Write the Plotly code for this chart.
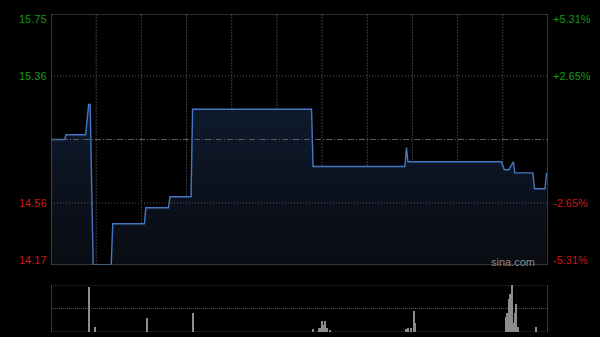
import plotly.graph_objects as go

# ---- data ----
price_minutes = [0, 9, 10, 23, 25, 26, 28, 40, 41, 62, 63, 78, 79, 93, 94, 173, 174, 235, 236, 237,
                 299, 301, 304, 307, 308, 320, 321, 328, 329]
price_values = [14.96, 14.96, 14.99, 14.99, 15.18, 15.18, 14.17, 14.17, 14.43, 14.43, 14.53, 14.53,
                14.60, 14.60, 15.15, 15.15, 14.79, 14.79, 14.91, 14.82,
                14.82, 14.77, 14.77, 14.82, 14.75, 14.75, 14.65, 14.65, 14.75]

vol_minutes = [25, 29, 64, 94, 174, 178, 179, 180, 181, 182, 183, 185,
               236, 237, 239, 241, 242, 302, 303, 304, 305, 306, 307, 308, 309, 310, 322]
vol_values = [95, 10, 29, 41, 6, 8, 8, 23, 14, 23, 9, 5,
              7, 8, 8, 45, 19, 32, 41, 70, 81, 100, 19, 41, 59, 11, 11]

pre_close = 14.96
left_ticks = [15.75, 15.36, 14.56, 14.17]
left_labels = ["15.75", "15.36", "14.56", "14.17"]
right_labels = ["+5.31%", "+2.65%", "-2.65%", "-5.31%"]
tick_colors = ["#169a16", "#169a16", "#d01414", "#d01414"]

# ---- figure ----
fig = go.Figure()

fig.add_trace(go.Scatter(
    x=price_minutes, y=price_values, mode="lines",
    line=dict(color="#4677c4", width=1.4),
    fill="tozeroy",
    fillgradient=dict(type="vertical", start=14.17, stop=15.2,
                      colorscale=[[0, "#090c12"], [1, "#0e1a2d"]]),
    xaxis="x", yaxis="y", hoverinfo="skip", showlegend=False))

fig.add_trace(go.Bar(
    x=vol_minutes, y=vol_values, width=0.7,
    marker=dict(color="#8c8c8c", line=dict(width=0)),
    xaxis="x2", yaxis="y2", hoverinfo="skip", showlegend=False))

ymin, ymax = 14.17, 15.75
main_bottom = (332 - 265) / 318
vol_top = (332 - 285) / 318

fig.update_layout(
    width=600, height=337,
    margin=dict(l=51, r=52, t=14, b=5),
    paper_bgcolor="#000000", plot_bgcolor="rgba(0,0,0,0)",
    xaxis=dict(range=[0, 330], domain=[0, 1], showgrid=False, zeroline=False,
               showticklabels=False, anchor="y"),
    yaxis=dict(range=[ymin, ymax], domain=[main_bottom, 1], showgrid=False,
               zeroline=False, showticklabels=False),
    xaxis2=dict(range=[0, 330], domain=[0, 1], showgrid=False, zeroline=False,
                showticklabels=False, anchor="y2"),
    yaxis2=dict(range=[0, 100], domain=[0, vol_top], showgrid=False,
                zeroline=False, showticklabels=False),
    bargap=0,
)

shapes = []
# vertical grid lines in main panel
for m in range(30, 330, 30):
    shapes.append(dict(type="line", xref="x", yref="y", x0=m, x1=m, y0=ymin, y1=ymax,
                       line=dict(color="#3a3a3a", width=1, dash="2px,1px"), layer="below"))
# horizontal grid lines
for v in [15.36, 14.56]:
    shapes.append(dict(type="line", xref="x", yref="y", x0=0, x1=330, y0=v, y1=v,
                       line=dict(color="#555555", width=1, dash="1px,2px"), layer="above"))
shapes.append(dict(type="line", xref="x", yref="y", x0=0, x1=330, y0=pre_close, y1=pre_close,
                   line=dict(color="#5e5e5e", width=1, dash="6px,2px,1px,2px"), layer="above"))
# main frame
shapes.append(dict(type="rect", xref="x", yref="y", x0=0, x1=330, y0=ymin, y1=ymax,
                   line=dict(color="#5c5c5c", width=1.2), layer="above"))
# volume panel
for v in [0, 50, 100]:
    shapes.append(dict(type="line", xref="x2", yref="y2", x0=0, x1=330, y0=v, y1=v,
                       line=dict(color="#555555", width=1, dash="1px,1px"), layer="below"))
for xv in [0, 330]:
    shapes.append(dict(type="line", xref="x2", yref="y2", x0=xv, x1=xv, y0=0, y1=100,
                       line=dict(color="#5c5c5c", width=1.2), layer="above"))
fig.update_layout(shapes=shapes)

ann = []
shifts = [-5, 0, 0, 5]
for v, lt, rt, c, s in zip(left_ticks, left_labels, right_labels, tick_colors, shifts):
    ann.append(dict(x=0, xref="paper", y=v, yref="y", text=lt, showarrow=False,
                    xanchor="right", yanchor="middle", xshift=-2, yshift=s,
                    font=dict(family="Liberation Sans, Arial", size=11, color=c)))
    ann.append(dict(x=1, xref="paper", y=v, yref="y", text=rt, showarrow=False,
                    xanchor="left", yanchor="middle", xshift=3, yshift=s,
                    font=dict(family="Liberation Sans, Arial", size=11, color=c)))
ann.append(dict(x=0.978, xref="paper", y=ymin, yref="y", text="sina.com", showarrow=False,
                xanchor="right", yanchor="middle", yshift=3.5,
                font=dict(family="Liberation Sans, Arial", size=11, color="#8a8a8a")))
fig.update_layout(annotations=ann)

fig.write_html("out.html")
